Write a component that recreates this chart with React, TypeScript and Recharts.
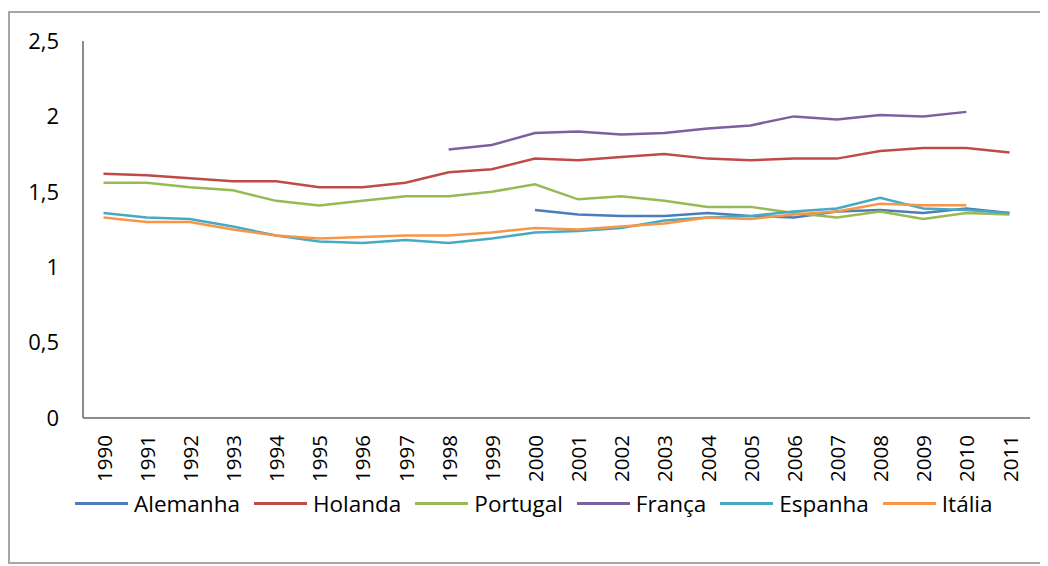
import React from "react"
import {
  LineChart,
  Line,
  XAxis,
  YAxis,
  Legend
} from "recharts"

const years = [
  "1990", "1991", "1992", "1993", "1994", "1995", "1996", "1997", "1998", "1999", "2000",
  "2001", "2002", "2003", "2004", "2005", "2006", "2007", "2008", "2009", "2010", "2011"
]

const alemanha = [
  null, null, null, null, null, null, null, null, null, null, 1.38,
  1.35, 1.34, 1.34, 1.36, 1.34, 1.33, 1.37, 1.38, 1.36, 1.39, 1.36
]
const holanda = [
  1.62, 1.61, 1.59, 1.57, 1.57, 1.53, 1.53, 1.56, 1.63, 1.65, 1.72,
  1.71, 1.73, 1.75, 1.72, 1.71, 1.72, 1.72, 1.77, 1.79, 1.79, 1.76
]
const portugal = [
  1.56, 1.56, 1.53, 1.51, 1.44, 1.41, 1.44, 1.47, 1.47, 1.5, 1.55,
  1.45, 1.47, 1.44, 1.4, 1.4, 1.36, 1.33, 1.37, 1.32, 1.36, 1.35
]
const franca = [
  null, null, null, null, null, null, null, null, 1.78, 1.81, 1.89,
  1.9, 1.88, 1.89, 1.92, 1.94, 2.0, 1.98, 2.01, 2.0, 2.03, null
]
const espanha = [
  1.36, 1.33, 1.32, 1.27, 1.21, 1.17, 1.16, 1.18, 1.16, 1.19, 1.23,
  1.24, 1.26, 1.31, 1.33, 1.34, 1.37, 1.39, 1.46, 1.39, 1.38, 1.36
]
const italia = [
  1.33, 1.3, 1.3, 1.25, 1.21, 1.19, 1.2, 1.21, 1.21, 1.23, 1.26,
  1.25, 1.27, 1.29, 1.33, 1.32, 1.35, 1.37, 1.42, 1.41, 1.41, null
]

const yTicks = [0, 0.5, 1, 1.5, 2, 2.5]

const series = [
  { key: "Alemanha", values: alemanha, color: "#4A7EBB" },
  { key: "Holanda", values: holanda, color: "#BE4B48" },
  { key: "Portugal", values: portugal, color: "#98B954" },
  { key: "França", values: franca, color: "#7D60A0" },
  { key: "Espanha", values: espanha, color: "#46AAC5" },
  { key: "Itália", values: italia, color: "#F79646" }
]

const data = years.map((year, i) => {
  const row: any = { year }
  series.forEach(s => { row[s.key] = s.values[i] })
  return row
})

const FONT = "'Open Sans', sans-serif"

function YearTick(props: any) {
  const { x, y, payload } = props
  const ty = y + 17
  return (
    <text
      x={x}
      y={ty}
      transform={`rotate(-90, ${x}, ${ty})`}
      textAnchor="end"
      dominantBaseline="central"
      fontFamily={FONT}
      fontSize={20.5}
      fill="#000"
    >
      {payload.value}
    </text>
  )
}

function LegendBox() {
  return (
    <div style={{ display: "flex", alignItems: "center", height: 38, paddingLeft: 65, fontFamily: FONT, fontSize: 22.5, color: "#000", whiteSpace: "nowrap" }}>
      {series.map(s => (
        <div key={s.key} style={{ display: "flex", alignItems: "center", marginRight: 14 }}>
          <span style={{ display: "inline-block", width: 53, height: 3, background: s.color, marginRight: 6 }} />
          <span>{s.key}</span>
        </div>
      ))}
    </div>
  )
}

export default function App() {
  return (
    <div style={{ marginTop: 3, width: 1036, height: 549, borderLeft: "2px solid #a6a6a6", borderTop: "2px solid #a6a6a6", borderBottom: "2px solid #a6a6a6", background: "#fff" }}>
      <LineChart width={1036} height={549} data={data} margin={{ top: 28, right: 16, left: 0, bottom: 40 }}>
        <XAxis
          dataKey="year"
          height={66}
          padding={{ left: 20.5, right: 20.5 }}
          axisLine={{ stroke: "#8c8c8c", strokeWidth: 2 }}
          tickLine={false}
          tickSize={0}
          tickMargin={0}
          interval={0}
          tick={<YearTick />}
        />
        <YAxis
          width={73}
          domain={[0, 2.5]}
          ticks={yTicks}
          axisLine={{ stroke: "#8c8c8c", strokeWidth: 2 }}
          tickLine={false}
          tickSize={0}
          tickMargin={24}
          tickFormatter={(v: number) => String(v).replace(".", ",")}
          tick={{ fontFamily: FONT, fontSize: 22, fill: "#000" }}
        />
        <Legend verticalAlign="bottom" content={<LegendBox />} wrapperStyle={{ left: 0, width: 1036 }} />
        {series.map(s => (
          <Line
            key={s.key}
            type="linear"
            dataKey={s.key}
            stroke={s.color}
            strokeWidth={2.5}
            dot={false}
            activeDot={false}
            isAnimationActive={false}
          />
        ))}
      </LineChart>
    </div>
  )
}
